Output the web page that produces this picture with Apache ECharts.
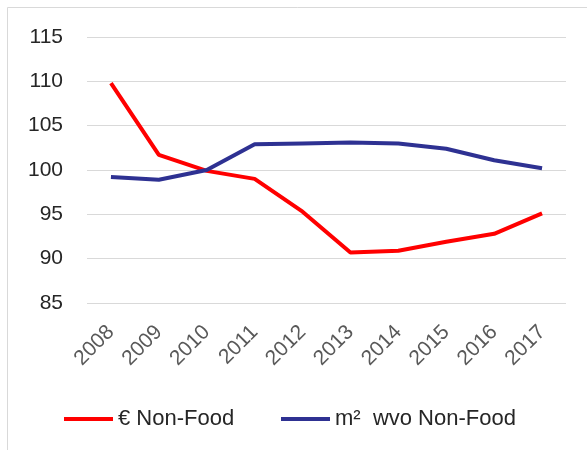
<!DOCTYPE html>
<html>
<head>
<meta charset="utf-8">
<script src="https://cdn.jsdelivr.net/npm/echarts@6/dist/echarts.min.js"></script>
<style>
  html, body { margin: 0; padding: 0; background: #fff; }
  #chart { width: 587px; height: 450px; }
</style>
</head>
<body>
<div id="chart"></div>
<script>
// Index series, 2010 = 100
const years = ['2008', '2009', '2010', '2011', '2012', '2013', '2014', '2015', '2016', '2017'];
const euroNonFood = [109.8, 101.7, 99.9, 99.0, 95.3, 90.7, 90.9, 91.9, 92.8, 95.1];
const m2NonFood = [99.2, 98.9, 100.0, 102.9, 103.0, 103.1, 103.0, 102.4, 101.1, 100.2];
const seriesNames = ['€ Non-Food', 'm²  wvo Non-Food'];

const FONT = '"Liberation Sans", Arial, sans-serif';

// one legend block per series, placed side by side
const legendBase = {
  bottom: 15,
  icon: 'rect',
  itemWidth: 49,
  itemHeight: 4,
  textStyle: { color: '#262626', fontFamily: FONT, fontSize: 22 }
};

const chart = echarts.init(document.getElementById('chart'), null, { renderer: 'canvas' });
chart.setOption({
  animation: false,
  backgroundColor: '#ffffff',
  graphic: [{
    type: 'rect',
    shape: { x: 7.5, y: 7.5, width: 640, height: 500 },
    style: { fill: 'none', stroke: '#d9d9d9', lineWidth: 1 },
    silent: true
  }],
  grid: { left: 87, right: 21, top: 37, bottom: 147 },
  xAxis: {
    type: 'category',
    data: years,
    boundaryGap: true,
    axisLine: { show: false },
    axisTick: { show: false },
    axisLabel: {
      rotate: 45,
      margin: 26,
      color: '#595959',
      fontFamily: FONT,
      fontSize: 21
    }
  },
  yAxis: {
    type: 'value',
    min: 85,
    max: 115,
    interval: 5,
    axisLine: { show: false },
    axisTick: { show: false },
    splitLine: { lineStyle: { color: '#d9d9d9', width: 1 } },
    axisLabel: {
      margin: 24,
      color: '#262626',
      fontFamily: FONT,
      fontSize: 21
    }
  },
  legend: [
    Object.assign({}, legendBase, { left: 59, data: [seriesNames[0]] }),
    Object.assign({}, legendBase, { left: 276, data: [seriesNames[1]] })
  ],
  series: [
    {
      name: seriesNames[0],
      type: 'line',
      data: euroNonFood,
      symbol: 'none',
      lineStyle: { color: '#ff0000', width: 4 },
      itemStyle: { color: '#ff0000' }
    },
    {
      name: seriesNames[1],
      type: 'line',
      data: m2NonFood,
      symbol: 'none',
      lineStyle: { color: '#2e3192', width: 4 },
      itemStyle: { color: '#2e3192' }
    }
  ]
});
</script>
</body>
</html>
